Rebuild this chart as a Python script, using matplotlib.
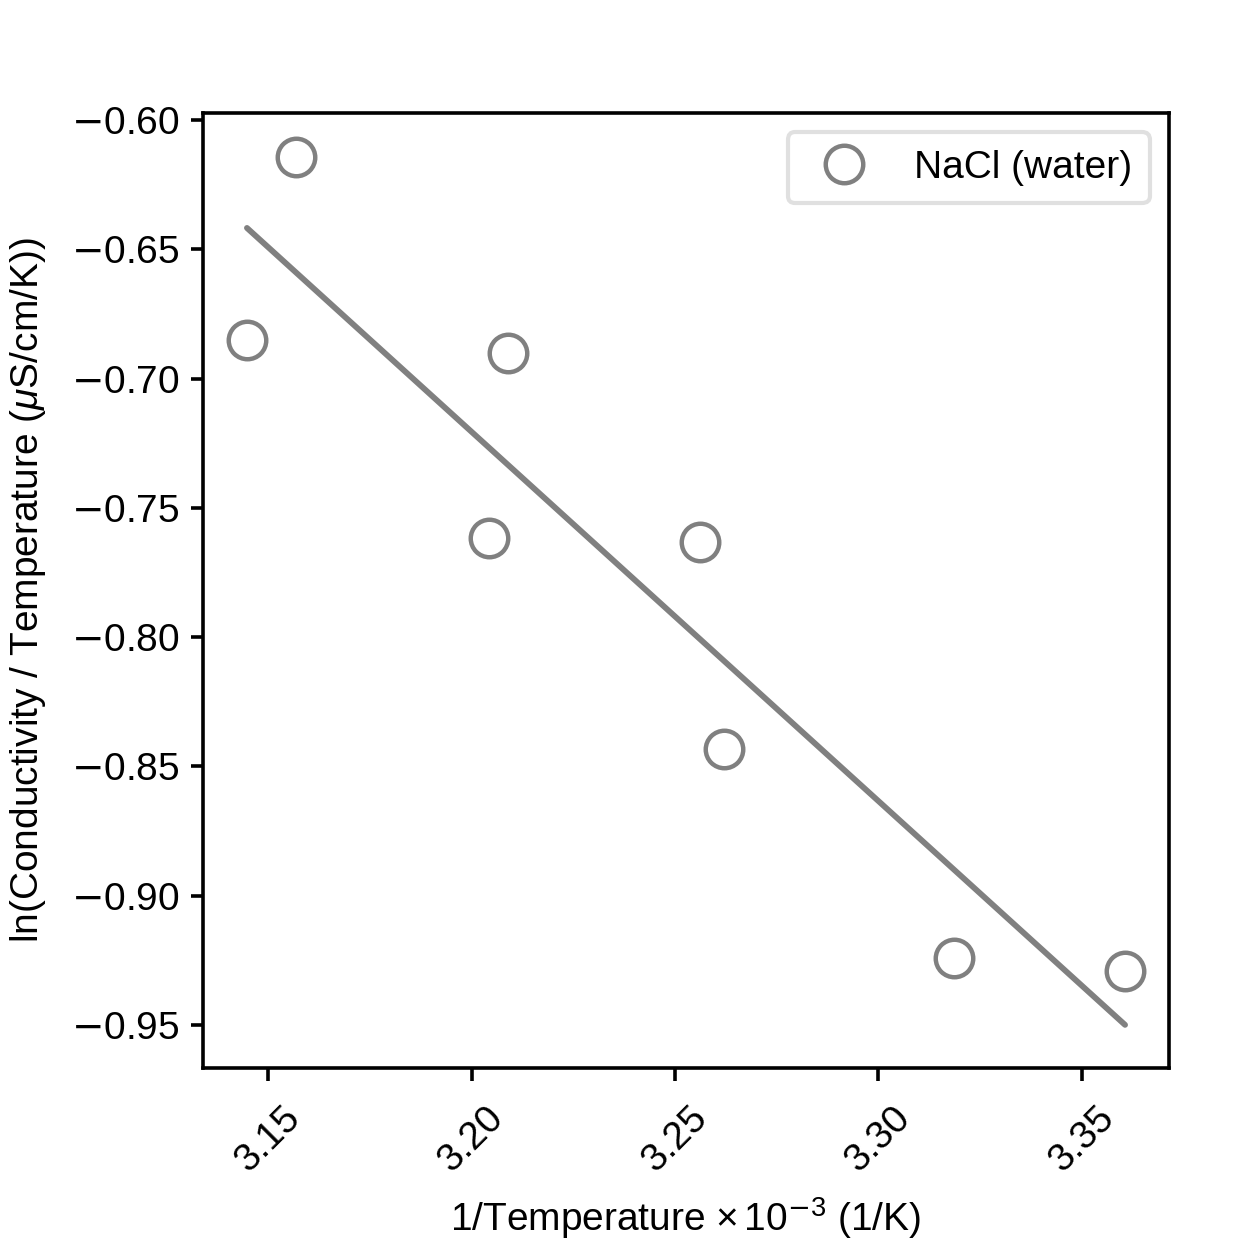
import numpy as np
import matplotlib
matplotlib.use("Agg")
import matplotlib.pyplot as plt

plt.rcParams['font.family'] = ['Liberation Sans', 'DejaVu Sans']
plt.rcParams['mathtext.fontset'] = 'custom'
plt.rcParams['mathtext.rm'] = 'Liberation Sans'
plt.rcParams['mathtext.it'] = 'Liberation Sans:italic'
plt.rcParams['mathtext.sf'] = 'DejaVu Sans'

inv_temp = [3.1448, 3.1569, 3.2043, 3.2090, 3.2561, 3.2620, 3.3186, 3.3606]
ln_cond = [-0.6851, -0.6143, -0.7616, -0.6901, -0.7632, -0.8432, -0.9240, -0.9291]
label = "NaCl (water)"
xticks = [3.15, 3.20, 3.25, 3.30, 3.35]
yticks = [-0.60, -0.65, -0.70, -0.75, -0.80, -0.85, -0.90, -0.95]

x = np.array(inv_temp)
y = np.array(ln_cond)
coef = np.polyfit(x, y, 1)
xl = np.array([x.min(), x.max()])

fig = plt.figure(figsize=(6.23, 6.205), dpi=200)
ax = fig.add_axes([203/1246, 1-1068/1241, (1169-203)/1246, (1068-113)/1241])
ax.plot(x, y, 'o', mfc='none', mec='gray', ms=13.5, mew=1.6, label=label)
ax.plot(xl, np.polyval(coef, xl), color='gray', lw=2.1, solid_capstyle='round')
ax.set_xlim(3.134, 3.3714)
ax.set_ylim(-0.9666, -0.5973)
ax.set_xticks(xticks)
ax.set_xticklabels([f'{v:.2f}' for v in xticks], rotation=45)
ax.set_yticks(yticks)
ax.set_yticklabels([r'$\mathsf{-}$' + f'{abs(v):.2f}' for v in yticks])
for s in ax.spines.values():
    s.set_linewidth(1.3)
ax.tick_params(width=1.3, length=4.5, labelsize=14, pad=4)
ax.tick_params(axis='x', pad=7)
ax.set_xlabel(r'1/Temperature $\times\,10^{\mathsf{-}3}$ (1/K)', fontsize=14, labelpad=6)
ax.set_ylabel(r'ln(Conductivity / Temperature ($\mu$S/cm/K))', fontsize=14, labelpad=8)
leg = ax.legend(loc='upper right', fontsize=14, borderpad=0.45, handletextpad=0.8,
                borderaxespad=0.5)
leg.get_frame().set_linewidth(1.5)
leg.get_frame().set_edgecolor('0.85')
fig.savefig('out.png', dpi=200)
